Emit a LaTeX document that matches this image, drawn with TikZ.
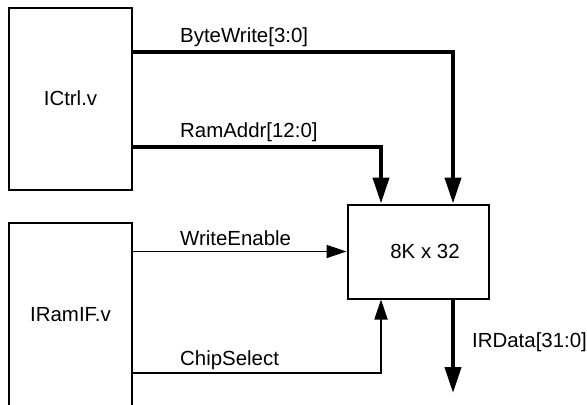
\documentclass[tikz,border=0pt]{standalone}
\usepackage{fontspec}
\setmainfont{Liberation Sans}
\usetikzlibrary{arrows.meta}

\begin{document}
\begin{tikzpicture}[x=1bp,y=-1bp]
  \tikzset{
    block/.style={draw,line width=2bp,inner sep=0pt,font=\fontsize{20.5}{25}\selectfont},
    bus/.style={line width=4bp,-{Triangle[length=26bp,width=16bp]}},
    wire/.style={line width=1.8bp,-{Triangle[length=20bp,width=13bp]}},
    signame/.style={anchor=base west,inner sep=0pt,font=\fontsize{20.5}{25}\selectfont},
  }
  \useasboundingbox (0,0) rectangle (587,404);
  \clip (0,0) rectangle (587,404);

  % blocks
  \node[block,minimum width=122bp,minimum height=182bp] (ictrl) at (70.5,98.5) {ICtrl.v};
  \node[block,minimum width=122bp,minimum height=184bp] (iramif) at (70.5,315) {IRamIF.v};
  \node[block,minimum width=141bp,minimum height=94bp] (mem) at (418,251.5) {\hspace*{14bp}8K x 32};

  % bend points
  \coordinate (bw) at (453,52);
  \coordinate (ra) at (381,147);
  \coordinate (cs) at (381,373);
  \coordinate (ird) at (453,393);

  % connections
  \draw[bus] (ictrl.east |- bw) -| (mem.north -| bw);
  \draw[bus] (ictrl.east |- ra) -| (mem.north -| ra);
  \draw[wire] (iramif.east |- mem.west) -- (mem.west);
  \draw[wire] (iramif.east |- cs) -| (mem.south -| cs);
  \draw[bus] (mem.south -| ird) -- (ird);

  % signal names
  \node[signame] (bwlbl) at (180,42) {ByteWrite[3:0]};
  \node[signame] (ralbl) at (180,137) {RamAddr[12:0]};
  \node[signame] (welbl) at (180,245) {WriteEnable};
  \node[signame] (cslbl) at (180,365) {ChipSelect};
  \node[signame] (irdlbl) at (472,347) {IRData[31:0]};
\end{tikzpicture}
\end{document}
